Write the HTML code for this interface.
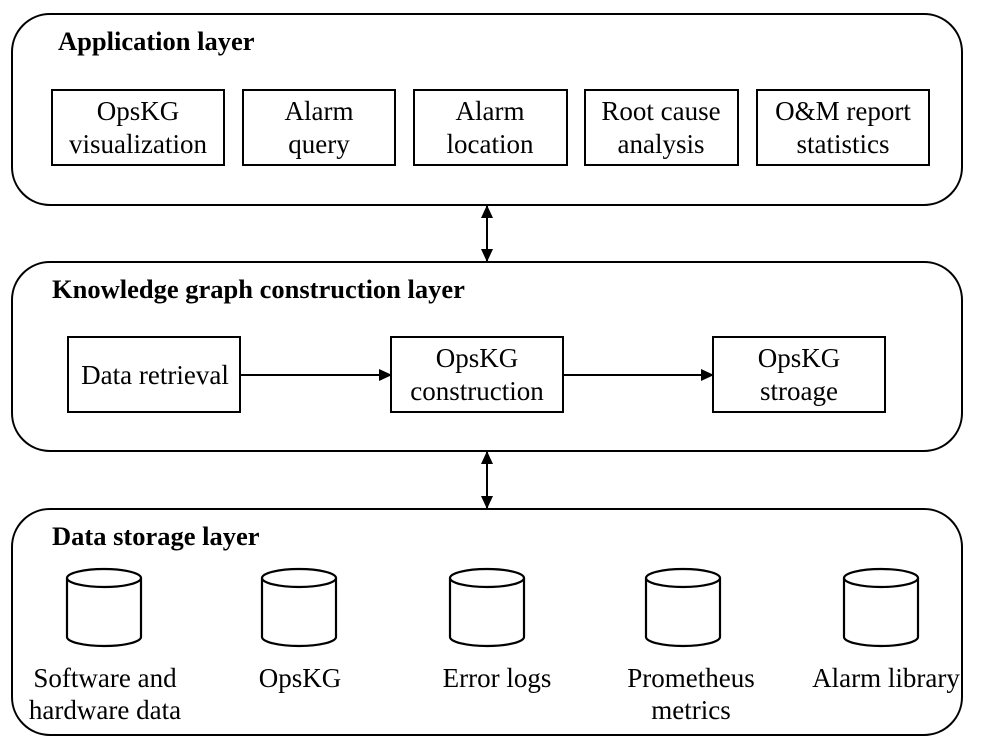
<!DOCTYPE html>
<html><head><meta charset="utf-8"><style>
html,body{margin:0;padding:0;background:#fff;}
svg{display:block;}
text{font-family:"Liberation Serif",serif;fill:#000;}
</style></head><body>
<svg width="986" height="749" viewBox="0 0 986 749" xmlns="http://www.w3.org/2000/svg">
<defs>
<marker id="ah" markerWidth="13" markerHeight="12" refX="12" refY="6" orient="auto-start-reverse" markerUnits="userSpaceOnUse">
<path d="M0,0 L13,6 L0,12 Z" fill="#000"/>
</marker>
</defs>
<g fill="none" stroke="#000" stroke-width="2">
<rect x="12" y="14" width="950" height="191" rx="38"/>
<rect x="12" y="262" width="950" height="189" rx="38"/>
<rect x="12" y="509" width="950" height="226" rx="38"/>
</g>
<g font-weight="bold" font-size="26.5">
<text x="58" y="50">Application layer</text>
<text x="52" y="298">Knowledge graph construction layer</text>
<text x="52" y="545">Data storage layer</text>
</g>
<g fill="none" stroke="#000" stroke-width="2">
<rect x="52" y="90" width="172" height="75"/>
<rect x="243" y="90" width="152" height="75"/>
<rect x="414" y="90" width="153" height="75"/>
<rect x="585" y="90" width="153" height="75"/>
<rect x="757" y="90" width="172" height="75"/>
<rect x="68" y="337" width="172" height="75"/>
<rect x="391" y="337" width="172" height="75"/>
<rect x="713" y="337" width="172" height="75"/>
</g>
<g font-size="27" text-anchor="middle">
<text x="138" y="120">OpsKG</text><text x="138" y="153">visualization</text>
<text x="319" y="120">Alarm</text><text x="319" y="153">query</text>
<text x="490" y="120">Alarm</text><text x="490" y="153">location</text>
<text x="661" y="120">Root cause</text><text x="661" y="153">analysis</text>
<text x="843" y="120">O&amp;M report</text><text x="843" y="153">statistics</text>
<text x="155" y="384">Data retrieval</text>
<text x="477" y="367">OpsKG</text><text x="477" y="400">construction</text>
<text x="799" y="367">OpsKG</text><text x="799" y="400">stroage</text>
<text x="105" y="687">Software and</text><text x="105" y="719">hardware data</text>
<text x="300" y="687">OpsKG</text>
<text x="497" y="687">Error logs</text>
<text x="691" y="687">Prometheus</text><text x="691" y="719">metrics</text>
<text x="886" y="687">Alarm library</text>
</g>
<g stroke="#000" stroke-width="2" fill="none">
<line x1="487" y1="206" x2="487" y2="261" marker-start="url(#ah)" marker-end="url(#ah)"/>
<line x1="487" y1="452" x2="487" y2="508" marker-start="url(#ah)" marker-end="url(#ah)"/>
<line x1="240" y1="375" x2="391" y2="375" marker-end="url(#ah)"/>
<line x1="563" y1="375" x2="713" y2="375" marker-end="url(#ah)"/>
</g>
<g stroke="#000" stroke-width="2.2" fill="#fff">
<g transform="translate(104,0)"><path d="M-37,578 L-37,637 A37,9 0 0 0 37,637 L37,578"/><ellipse cx="0" cy="578" rx="37" ry="9"/></g>
<g transform="translate(299,0)"><path d="M-37,578 L-37,637 A37,9 0 0 0 37,637 L37,578"/><ellipse cx="0" cy="578" rx="37" ry="9"/></g>
<g transform="translate(487,0)"><path d="M-37,578 L-37,637 A37,9 0 0 0 37,637 L37,578"/><ellipse cx="0" cy="578" rx="37" ry="9"/></g>
<g transform="translate(683,0)"><path d="M-37,578 L-37,637 A37,9 0 0 0 37,637 L37,578"/><ellipse cx="0" cy="578" rx="37" ry="9"/></g>
<g transform="translate(881,0)"><path d="M-37,578 L-37,637 A37,9 0 0 0 37,637 L37,578"/><ellipse cx="0" cy="578" rx="37" ry="9"/></g>
</g>
</svg>
</body></html>
